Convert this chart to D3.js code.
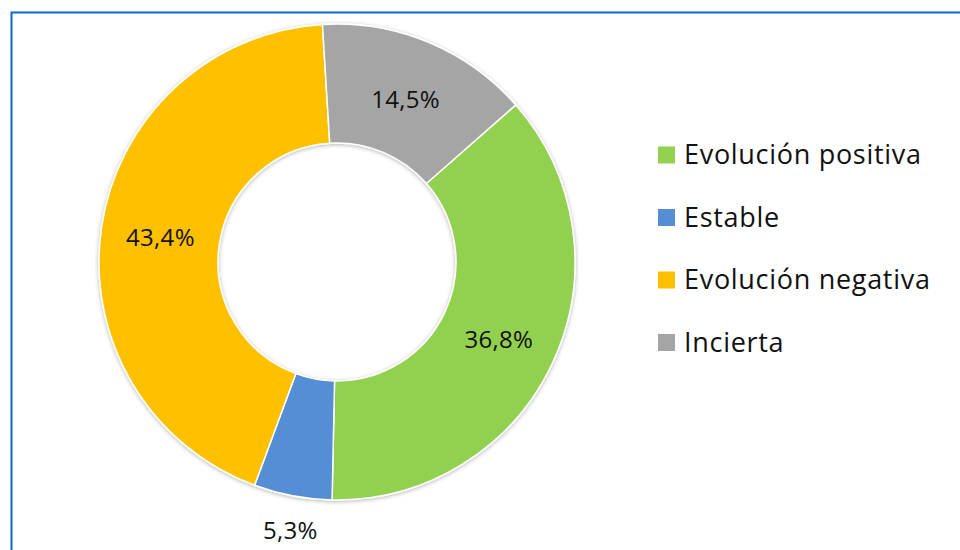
<!DOCTYPE html>
<html>
<head>
<meta charset="utf-8">
<script src="https://cdn.jsdelivr.net/npm/d3@7"></script>
<style>
  body { margin: 0; background: white; }
  svg { display: block; font-family: "Open Sans", sans-serif; }
</style>
</head>
<body>
<div id="chart"></div>
<script>
"use strict"

// data
const categories = ["Evolución positiva", "Estable", "Evolución negativa", "Incierta"];
const values = [36.8, 5.3, 43.4, 14.5];
const labels = ["36,8%", "5,3%", "43,4%", "14,5%"];
const colors = ["#92d050", "#558ed5", "#ffc000", "#a5a5a5"];

// the small slice has its label pushed outside the ring
const labelRadius = [null, 273, null, null];

const width = 960, height = 550;
const cx = 337, cy = 262;
const outerR = 238, innerR = 119;
const startAngle = 48.7 * Math.PI / 180;

let svg = d3.select("#chart").append("svg")
  .attr("width", width)
  .attr("height", height);

svg.append("rect")
  .attr("width", width)
  .attr("height", height)
  .style("fill", "white");

// blue frame, runs off the right and bottom edges
svg.append("rect")
  .attr("x", 11.5)
  .attr("y", 12.5)
  .attr("width", width + 20)
  .attr("height", height + 20)
  .style("fill", "none")
  .style("stroke", "#0a66c8")
  .style("stroke-width", 2);

let defs = svg.append("defs");
let shadow = defs.append("filter")
  .attr("id", "shadow")
  .attr("x", "-10%").attr("y", "-10%")
  .attr("width", "120%").attr("height", "120%");
shadow.append("feGaussianBlur").attr("in", "SourceAlpha").attr("stdDeviation", 2);
shadow.append("feOffset").attr("dx", 0).attr("dy", 1).attr("result", "b");
shadow.append("feComponentTransfer").append("feFuncA").attr("type", "linear").attr("slope", 0.3);
let merge = shadow.append("feMerge");
merge.append("feMergeNode");
merge.append("feMergeNode").attr("in", "SourceGraphic");

let pie = d3.pie()
  .sort(null)
  .value(d => d)
  .startAngle(startAngle)
  .endAngle(startAngle + 2 * Math.PI);

let arc = d3.arc()
  .innerRadius(innerR)
  .outerRadius(outerR);

let arcs = pie(values);

let g = svg.append("g")
  .attr("transform", `translate(${cx},${cy})`);

g.append("g")
  .style("filter", "url(#shadow)")
  .selectAll("path")
  .data(arcs)
  .enter().append("path")
  .attr("d", arc)
  .style("fill", (d, i) => colors[i])
  .style("stroke", "white")
  .style("stroke-width", 1.5);

// data labels
g.selectAll("text.lbl")
  .data(arcs)
  .enter().append("text")
  .attr("class", "lbl")
  .attr("transform", (d, i) => {
    if (labelRadius[i]) {
      let a = (d.startAngle + d.endAngle) / 2;
      return `translate(${Math.sin(a) * labelRadius[i] + 4},${-Math.cos(a) * labelRadius[i]})`;
    }
    let c = arc.centroid(d);
    return `translate(${c[0]},${c[1] + 2})`;
  })
  .attr("text-anchor", "middle")
  .attr("dy", "0.35em")
  .style("font-size", "24px")
  .style("letter-spacing", "0.3px")
  .style("fill", "#111")
  .text((d, i) => labels[i]);

// legend
let legend = svg.append("g")
  .attr("transform", "translate(658,155)");

let item = legend.selectAll("g")
  .data(categories)
  .enter().append("g")
  .attr("transform", (d, i) => `translate(0,${i * 62.5})`);

item.append("rect")
  .attr("x", 0)
  .attr("y", -8.5)
  .attr("width", 17)
  .attr("height", 17)
  .style("fill", (d, i) => colors[i]);

item.append("text")
  .attr("x", 26)
  .attr("dy", "0.35em")
  .style("font-size", "27px")
  .style("letter-spacing", "0.7px")
  .style("fill", "#111")
  .text(d => d);
</script>
</body>
</html>
